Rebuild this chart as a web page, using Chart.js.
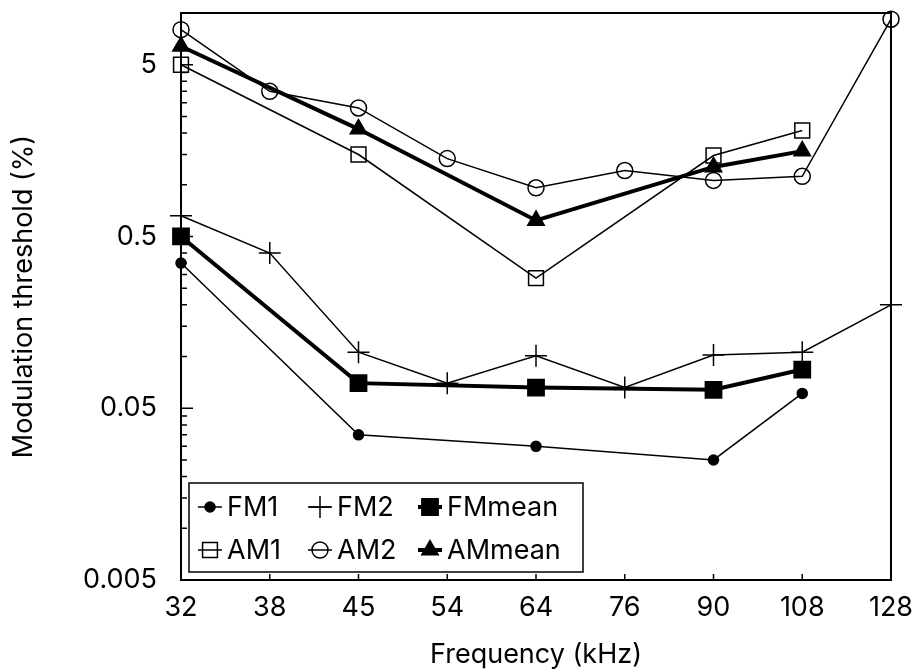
<!DOCTYPE html>
<html>
<head>
<meta charset="utf-8">
<script src="https://cdn.jsdelivr.net/npm/chart.js@4.4.1/dist/chart.umd.min.js"></script>
<style>
html,body{margin:0;padding:0;background:#fff;}
#wrap{width:916px;height:671px;}
</style>
</head>
<body>
<div id="wrap"><canvas id="c" width="916" height="671"></canvas></div>
<script>
// ---- data ----
const categories = ['32', '38', '45', '54', '64', '76', '90', '108', '128'];
const fm1    = [0.35, null, 0.035, null, 0.030, null, 0.025, 0.061, null];
const fm2    = [0.66, 0.40, 0.106, 0.070, 0.101, 0.066, 0.102, 0.106, 0.20];
const fmMean = [0.50, null, 0.070, null, 0.066, null, 0.064, 0.084, null];
const am1    = [5.0, null, 1.50, null, 0.286, null, 1.48, 2.07, null];
const am2    = [8.0, 3.5, 2.8, 1.42, 0.96, 1.21, 1.06, 1.12, 9.2];
const amMean = [6.4, null, 2.11, null, 0.62, null, 1.27, 1.57, null];
const yMajorTicks = [0.005, 0.05, 0.5, 5];
const yMinorMultipliers = [2, 3, 4, 5, 6, 7, 8, 9];
const yMin = 0.005, yMax = 10;

const FONT = 'Inter';
const FS = 27;
const BLACK = '#000';
const CLEAR = 'rgba(0,0,0,0)';

function ds(label, data, style, radius, filled, lineWidth) {
  return {
    label, data,
    borderColor: BLACK,
    borderWidth: lineWidth,
    backgroundColor: filled ? BLACK : CLEAR,
    pointStyle: style,
    pointRadius: radius,
    pointHoverRadius: radius,
    pointBorderWidth: 1.5,
    pointBorderColor: BLACK,
    pointBackgroundColor: filled ? BLACK : CLEAR,
    fill: false,
    tension: 0,
    spanGaps: true,
    clip: false
  };
}

const datasets = [
  ds('FM1', fm1, 'circle', 5, true, 1.5),
  ds('FM2', fm2, 'cross', 11, false, 1.5),
  ds('FMmean', fmMean, 'rect', 11.5, true, 4),
  ds('AM1', am1, 'rect', 10.5, false, 1.5),
  ds('AM2', am2, 'circle', 8, false, 1.5),
  ds('AMmean', amMean, 'triangle', 9.5, true, 4)
];

function isMajor(v) {
  return yMajorTicks.some(m => Math.abs(m - v) / m < 1e-6);
}

const frameTicks = {
  id: 'frameTicks',
  afterDatasetsDraw(chart) {
    const {ctx, chartArea: a, scales} = chart;
    ctx.save();
    ctx.strokeStyle = BLACK;
    ctx.lineWidth = 1.5;
    ctx.beginPath();
    scales.y.ticks.forEach(t => {
      const y = scales.y.getPixelForValue(t.value);
      const len = isMajor(t.value) ? 12 : 6;
      ctx.moveTo(a.left, y);
      ctx.lineTo(a.left + len, y);
    });
    for (let i = 1; i < categories.length - 1; i++) {
      const x = scales.x.getPixelForTick(i);
      ctx.moveTo(x, a.bottom);
      ctx.lineTo(x, a.bottom - 6);
    }
    ctx.stroke();
    ctx.lineWidth = 2;
    ctx.strokeRect(a.left, a.top, a.right - a.left, a.bottom - a.top);
    ctx.restore();
  }
};

function drawMarker(ctx, d, x, y) {
  const opts = {pointStyle: d.pointStyle, radius: d.pointRadius, borderWidth: d.pointBorderWidth, rotation: 0};
  ctx.fillStyle = d.pointBackgroundColor;
  ctx.strokeStyle = d.pointBorderColor;
  ctx.lineWidth = d.pointBorderWidth;
  if (Chart.helpers && Chart.helpers.drawPoint) {
    Chart.helpers.drawPoint(ctx, opts, x, y);
  }
}

const boxLegend = {
  id: 'boxLegend',
  afterDraw(chart) {
    const {ctx, chartArea: a} = chart;
    const bw = 394, bh = 89;
    const bx = a.left + 8, by = a.bottom - 8 - bh;
    ctx.save();
    ctx.fillStyle = '#fff';
    ctx.fillRect(bx, by, bw, bh);
    ctx.strokeStyle = BLACK;
    ctx.lineWidth = 1.5;
    ctx.strokeRect(bx, by, bw, bh);
    ctx.font = FS + 'px ' + FONT;
    ctx.textBaseline = 'middle';
    ctx.textAlign = 'left';
    chart.data.datasets.forEach((d, i) => {
      const col = i % 3, row = Math.floor(i / 3);
      const x0 = bx + 9 + col * 110;
      const y = by + 24 + row * 43;
      ctx.strokeStyle = BLACK;
      ctx.lineWidth = d.borderWidth;
      ctx.beginPath();
      ctx.moveTo(x0, y);
      ctx.lineTo(x0 + 24, y);
      ctx.stroke();
      drawMarker(ctx, d, x0 + 12, y);
      ctx.fillStyle = BLACK;
      ctx.fillText(d.label, x0 + 29, y + 1);
    });
    ctx.restore();
  }
};

new Chart(document.getElementById('c'), {
  type: 'line',
  data: {labels: categories, datasets},
  options: {
    responsive: false,
    animation: false,
    events: [],
    layout: {padding: {top: 11, right: 25, left: 0, bottom: 0}},
    plugins: {legend: {display: false}, tooltip: {enabled: false}},
    scales: {
      x: {
        type: 'category',
        offset: false,
        grid: {display: false, drawTicks: false},
        border: {display: false},
        ticks: {
          color: BLACK, font: {family: FONT, size: FS},
          padding: 12, maxRotation: 0, autoSkip: false
        },
        title: {
          display: true, text: 'Frequency (kHz)', color: BLACK,
          font: {family: FONT, size: FS}, padding: {top: 0, bottom: 0}
        },
        afterFit(s) { s.height = 91; s.paddingLeft = 0; s.paddingRight = 0; }
      },
      y: {
        type: 'logarithmic',
        min: yMin, max: yMax,
        grid: {display: false, drawTicks: false},
        border: {display: false},
        afterBuildTicks(s) {
          const vals = [];
          yMajorTicks.forEach(m => {
            vals.push(m);
            yMinorMultipliers.forEach(k => { if (m * k <= yMax * 1.0001) vals.push(m * k); });
          });
          s.ticks = vals.map(v => ({value: v}));
        },
        ticks: {
          color: BLACK, font: {family: FONT, size: FS},
          padding: 24, autoSkip: false,
          callback: (v) => isMajor(v) ? String(yMajorTicks.find(m => Math.abs(m - v) / m < 1e-6)) : ''
        },
        title: {
          display: true, text: 'Modulation threshold (%)', color: BLACK,
          font: {family: FONT, size: FS}, padding: {top: 8, bottom: 0}
        },
        afterFit(s) { s.width = 181; s.paddingTop = 0; s.paddingBottom = 0; }
      }
    }
  },
  plugins: [frameTicks, boxLegend]
});
</script>
</body>
</html>
